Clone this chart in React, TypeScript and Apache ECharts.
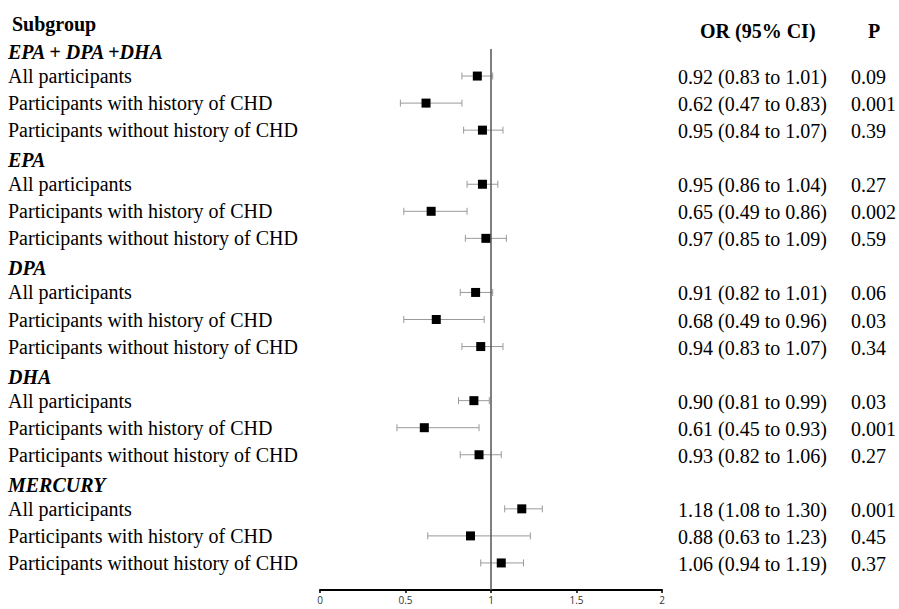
import React, { useEffect, useRef } from "react";
import * as echarts from "echarts";

const groups = ["EPA + DPA +DHA", "EPA", "DPA", "DHA", "MERCURY"];
const subgroups = [
  "All participants",
  "Participants with history of CHD",
  "Participants without history of CHD",
];
const orEst = [0.92, 0.62, 0.95, 0.95, 0.65, 0.97, 0.91, 0.68, 0.94, 0.9, 0.61, 0.93, 1.18, 0.88, 1.06];
const ciLow = [0.83, 0.47, 0.84, 0.86, 0.49, 0.85, 0.82, 0.49, 0.83, 0.81, 0.45, 0.82, 1.08, 0.63, 0.94];
const ciHigh = [1.01, 0.83, 1.07, 1.04, 0.86, 1.09, 1.01, 0.96, 1.07, 0.99, 0.93, 1.06, 1.3, 1.23, 1.19];
const pValues = ["0.09", "0.001", "0.39", "0.27", "0.002", "0.59", "0.06", "0.03", "0.34", "0.03", "0.001", "0.27", "0.001", "0.45", "0.37"];
const xTicks = [0, 0.5, 1, 1.5, 2];

const SERIF = "'Liberation Serif', 'Times New Roman', serif";

export default function App() {
  const ref = useRef<HTMLDivElement>(null);

  useEffect(() => {
    if (!ref.current) return;
    const chart = echarts.init(ref.current, undefined, { renderer: "svg" });

    const leftLabels: string[] = [];
    const rightLabels: string[] = [];
    const isHeader: boolean[] = [];
    const points: number[][] = [];
    const intervals: number[][] = [];
    groups.forEach((g, gi) => {
      leftLabels.push(g);
      rightLabels.push("");
      isHeader.push(true);
      subgroups.forEach((s, si) => {
        const k = gi * 3 + si;
        const row = leftLabels.length;
        leftLabels.push(s);
        rightLabels.push(
          `{or|${orEst[k].toFixed(2)} (${ciLow[k].toFixed(2)} to ${ciHigh[k].toFixed(2)})}{p|${pValues[k]}}`
        );
        isHeader.push(false);
        points.push([orEst[k], row]);
        intervals.push([ciLow[k], ciHigh[k], row]);
      });
    });
    leftLabels.push("");
    rightLabels.push("");
    isHeader.push(false);

    const yBase = {
      type: "category" as const,
      inverse: true,
      boundaryGap: false,
      axisLine: { show: false },
      axisTick: { show: false },
      splitLine: { show: false },
    };

    chart.setOption({
      animation: false,
      backgroundColor: "#ffffff",
      grid: { left: 320, right: 233, top: 49, bottom: 19, containLabel: false },
      xAxis: {
        type: "value",
        min: xTicks[0],
        max: xTicks[xTicks.length - 1],
        interval: 0.5,
        axisLine: { show: true, onZero: false, lineStyle: { color: "#000", width: 2 } },
        axisTick: { show: true, length: 3, lineStyle: { color: "#000", width: 1.5 } },
        splitLine: { show: false },
        axisLabel: {
          margin: 5,
          fontSize: 10,
          color: "#333",
          fontFamily: "'Open Sans', 'DejaVu Sans', sans-serif",
        },
      },
      yAxis: [
        {
          ...yBase,
          position: "left",
          data: leftLabels,
          axisLabel: {
            interval: 0,
            align: "left",
            margin: 312,
            fontSize: 20,
            fontFamily: SERIF,
            color: "#000",
            formatter: (v: string, i: number) => (isHeader[i] ? `{h|${v}}` : v),
            rich: {
              h: {
                fontSize: 20,
                fontFamily: SERIF,
                fontWeight: "bold",
                fontStyle: "italic",
                color: "#000",
                padding: [6, 0, 0, 0],
              },
            },
          },
        },
        {
          ...yBase,
          position: "right",
          data: rightLabels,
          axisLabel: {
            interval: 0,
            align: "left",
            margin: 16,
            fontSize: 20,
            fontFamily: SERIF,
            color: "#000",
            rich: {
              or: { fontSize: 20, fontFamily: SERIF, color: "#000", width: 173, padding: [2, 0, 0, 0] },
              p: { fontSize: 20, fontFamily: SERIF, color: "#000", padding: [2, 0, 0, 0] },
            },
          },
        },
      ],
      graphic: [
        {
          type: "text",
          left: 12,
          top: 14,
          style: { text: "Subgroup", font: `bold 20px ${SERIF}`, fill: "#000" },
        },
        {
          type: "text",
          left: 700,
          top: 21,
          style: { text: "OR (95% CI)", font: `bold 20px ${SERIF}`, fill: "#000" },
        },
        {
          type: "text",
          left: 868,
          top: 21,
          style: { text: "P", font: `bold 20px ${SERIF}`, fill: "#000" },
        },
      ],
      series: [
        {
          type: "custom",
          xAxisIndex: 0,
          yAxisIndex: 0,
          encode: { x: [0, 1], y: 2 },
          data: intervals,
          z: 2,
          renderItem: (params: any, api: any) => {
            const a = api.coord([api.value(0), api.value(2)]);
            const b = api.coord([api.value(1), api.value(2)]);
            const cap = 3.5;
            const style = { stroke: "#9a9a9a", lineWidth: 1 };
            return {
              type: "group",
              children: [
                { type: "line", shape: { x1: a[0], y1: a[1], x2: b[0], y2: b[1] }, style },
                { type: "line", shape: { x1: a[0], y1: a[1] - cap, x2: a[0], y2: a[1] + cap }, style },
                { type: "line", shape: { x1: b[0], y1: b[1] - cap, x2: b[0], y2: b[1] + cap }, style },
              ],
            };
          },
        },
        {
          type: "scatter",
          xAxisIndex: 0,
          yAxisIndex: 0,
          data: points,
          symbol: "rect",
          symbolSize: 9,
          itemStyle: { color: "#000", opacity: 1 },
          z: 4,
          markLine: {
            silent: true,
            symbol: ["none", "none"],
            label: { show: false },
            lineStyle: { color: "#555", width: 1.5, type: "solid", opacity: 1 },
            data: [{ xAxis: 1 }],
            z: 3,
          },
        },
      ],
    });

    return () => chart.dispose();
  }, []);

  return (
    <div
      ref={ref}
      style={{ position: "fixed", left: 0, top: 0, width: 899, height: 609 }}
    />
  );
}
